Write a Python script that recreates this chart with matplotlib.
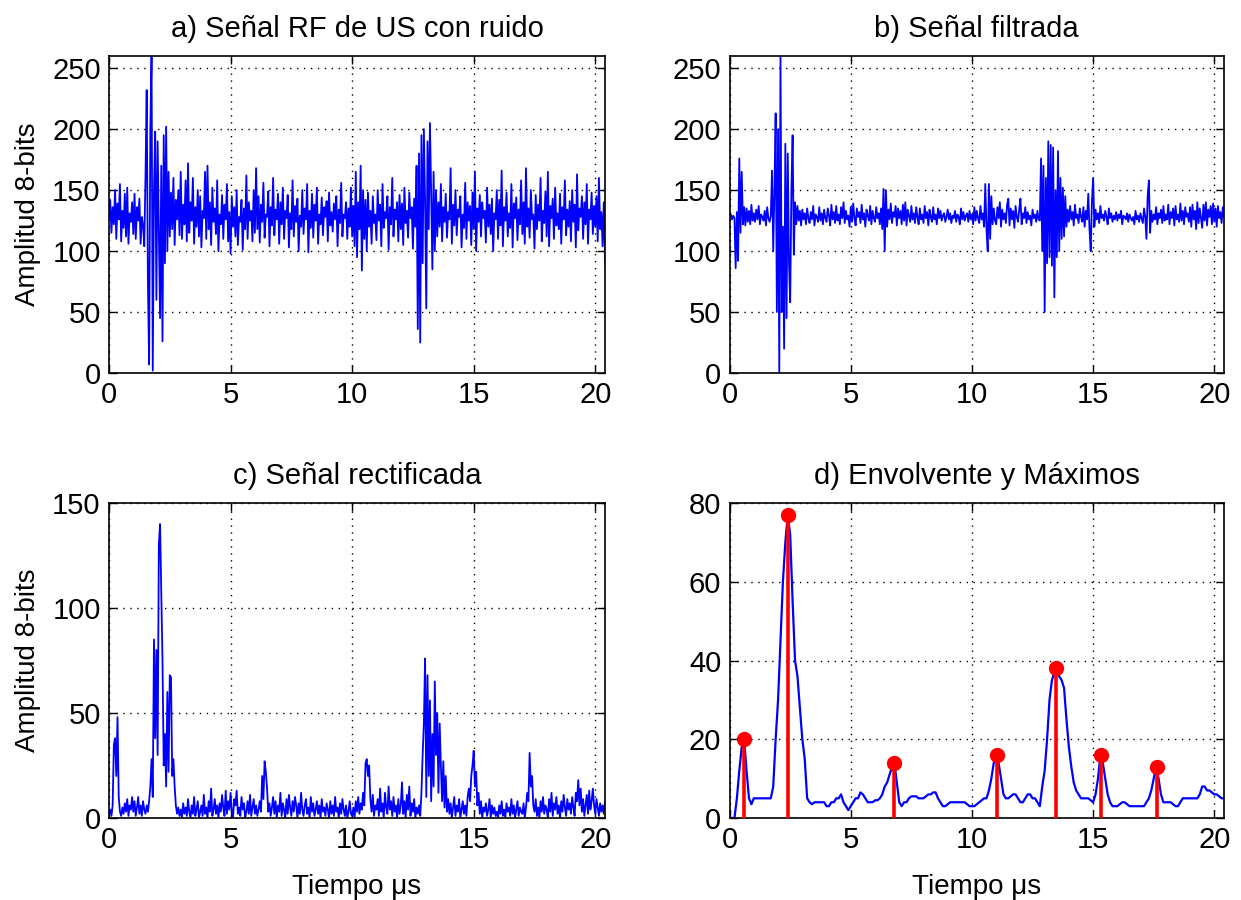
import numpy as np
import matplotlib
matplotlib.use("Agg")
import matplotlib.pyplot as plt

plt.rcParams['font.family'] = ['Liberation Sans', 'DejaVu Sans']

# sample spacing of the three raw traces (us) and of the envelope
DT = 0.05
DT_ENV = 0.1

# a) noisy RF signal, 8-bit amplitude, one row per microsecond
rf_noisy = [
    128, 142, 115, 136, 122, 150, 110, 139, 126, 155, 108, 133, 119, 147, 112, 152, 106, 131, 124, 140,
    114, 147, 110, 136, 125, 143, 106, 128, 121, 104, 160, 232, 75, 7, 200, 260, 2, 150, 198, 60,
    190, 120, 45, 170, 26, 195, 90, 202, 100, 165, 112, 148, 118, 160, 105, 142, 126, 150, 113, 165,
    110, 138, 122, 158, 108, 172, 115, 140, 125, 160, 106, 136, 120, 150, 112, 145, 103, 133, 127, 165,
    110, 170, 118, 140, 105, 152, 124, 135, 114, 158, 100, 130, 122, 146, 110, 138, 126, 155, 108, 132,
    98, 145, 120, 136, 112, 150, 105, 128, 124, 142, 101, 135, 118, 162, 110, 140, 125, 133, 108, 150,
    115, 168, 118, 145, 107, 138, 124, 156, 111, 130, 128, 149, 104, 136, 121, 160, 113, 134, 126, 147,
    106, 140, 122, 152, 110, 133, 127, 146, 103, 131, 118, 158, 112, 137, 124, 143, 100, 129, 120, 150,
    114, 135, 126, 155, 99, 133, 119, 147, 111, 138, 125, 152, 106, 130, 122, 144, 113, 136, 128, 141,
    108, 148, 121, 132, 116, 139, 126, 145, 104, 134, 123, 156, 112, 130, 127, 140, 110, 135, 120, 152,
    112, 137, 104, 165, 95, 140, 118, 170, 84, 150, 110, 142, 100, 148, 120, 133, 106, 145, 123, 130,
    109, 150, 125, 138, 104, 155, 119, 132, 127, 145, 101, 136, 122, 160, 112, 134, 126, 140, 108, 146,
    118, 139, 105, 152, 123, 133, 111, 148, 127, 136, 102, 143, 120, 170, 36, 180, 25, 195, 90, 200,
    140, 53, 190, 118, 205, 148, 85, 165, 100, 150, 112, 140, 120, 155, 108, 136, 124, 147, 111, 132,
    126, 168, 106, 138, 121, 150, 113, 134, 128, 145, 103, 130, 119, 156, 110, 140, 125, 137, 105, 148,
    118, 165, 100, 135, 124, 146, 112, 140, 127, 133, 107, 152, 120, 138, 114, 143, 100, 131, 126, 150,
    110, 142, 121, 166, 104, 136, 125, 148, 112, 131, 119, 155, 103, 139, 127, 144, 109, 134, 122, 158,
    114, 140, 106, 168, 120, 135, 111, 150, 126, 130, 102, 146, 118, 138, 125, 160, 108, 133, 123, 149,
    112, 165, 104, 137, 127, 143, 110, 152, 121, 131, 118, 147, 106, 136, 126, 158, 113, 134, 120, 141,
    108, 150, 124, 138, 103, 163, 117, 135, 128, 145, 110, 140, 122, 155, 106, 134, 126, 148, 114, 137,
    120, 145, 108, 160, 118, 132, 104, 140, 95, 80,
]

# b) filtered signal
rf_filtered = [
    128, 130, 126, 129, 127, 86, 132, 92, 176, 115, 165, 122, 136, 121, 135, 124, 133, 122, 138, 125,
    131, 124, 134, 126, 137, 122, 130, 128, 125, 133, 121, 136, 127, 124, 129, 166, 100, 150, 213, 50,
    200, 0, 260, 50, 120, 20, 188, 45, 180, 90, 58, 150, 195, 97, 140, 122, 137, 125, 133, 121,
    134, 126, 131, 122, 135, 127, 123, 132, 126, 137, 121, 130, 128, 124, 136, 125, 131, 122, 134, 127,
    124, 135, 129, 121, 138, 126, 132, 123, 137, 125, 130, 122, 136, 127, 140, 123, 133, 126, 129, 120,
    136, 124, 139, 127, 121, 135, 128, 132, 123, 138, 126, 131, 120, 134, 129, 125, 137, 122, 133, 127,
    124, 136, 127, 131, 122, 135, 118, 151, 100, 150, 120, 134, 126, 139, 123, 132, 128, 137, 121, 135,
    127, 133, 122, 138, 125, 140, 121, 134, 129, 124, 137, 126, 131, 123, 136, 128, 122, 135, 126, 130,
    123, 137, 127, 132, 121, 134, 128, 124, 136, 126, 130, 122, 135, 127, 133, 125, 129, 131, 124, 128,
    134, 126, 131, 123, 129, 127, 133, 124, 130, 128, 122, 135, 126, 132, 125, 129, 131, 124, 133, 126,
    130, 122, 136, 125, 133, 127, 123, 137, 126, 131, 120, 155, 118, 100, 155, 110, 145, 122, 135, 125,
    122, 136, 127, 140, 120, 134, 126, 131, 123, 138, 143, 121, 135, 126, 133, 119, 137, 128, 124, 134,
    143, 122, 131, 127, 136, 123, 132, 126, 129, 121, 134, 127, 130, 124, 133, 126, 125, 176, 100, 170,
    50, 160, 90, 190, 95, 187, 88, 185, 62, 150, 95, 182, 100, 160, 110, 152, 112, 145, 120, 134,
    124, 137, 126, 132, 121, 138, 127, 130, 123, 135, 128, 124, 136, 120, 133, 126, 147, 118, 100, 140,
    160, 120, 134, 126, 131, 123, 137, 127, 130, 125, 133, 128, 122, 135, 127, 131, 124, 129, 126, 132,
    125, 130, 127, 133, 122, 129, 128, 126, 131, 124, 130, 127, 125, 128, 122, 133, 126, 129, 124, 131,
    127, 123, 135, 128, 110, 145, 158, 115, 133, 124, 130, 126, 136, 122, 131, 127, 134, 123, 137, 125,
    130, 126, 138, 122, 132, 127, 135, 121, 137, 126, 130, 124, 139, 125, 133, 122, 136, 128, 131, 124,
    136, 120, 138, 126, 133, 118, 140, 123, 135, 127, 119, 138, 125, 140, 121, 134, 128, 137, 122, 139,
    124, 135, 120, 137, 127, 132, 123, 136, 128, 133,
]

# c) rectified signal
rf_rectified = [
    2, 4, 1, 6, 35, 38, 20, 48, 10, 3, 1, 5, 2, 7, 3, 9, 1, 6, 4, 10,
    3, 8, 1, 5, 10, 2, 6, 1, 8, 4, 2, 6, 3, 8, 15, 28, 10, 85, 38, 80,
    30, 130, 140, 107, 75, 25, 40, 15, 60, 22, 68, 67, 20, 28, 15, 6, 2, 5, 1, 4,
    0, 7, 2, 5, 1, 9, 3, 0, 6, 2, 10, 1, 4, 8, 0, 3, 6, 1, 11, 2,
    5, 0, 8, 3, 14, 1, 4, 9, 2, 6, 0, 7, 3, 11, 5, 1, 13, 2, 8, 4,
    12, 3, 0, 9, 6, 13, 2, 5, 1, 10, 4, 7, 0, 3, 8, 2, 11, 1, 5, 9,
    2, 6, 1, 4, 8, 3, 20, 9, 27, 22, 14, 3, 7, 1, 5, 10, 2, 8, 0, 6,
    3, 12, 1, 7, 4, 0, 9, 2, 11, 5, 1, 8, 3, 10, 6, 0, 7, 2, 12, 4,
    1, 6, 9, 2, 5, 0, 10, 3, 7, 1, 4, 8, 2, 6, 0, 9, 3, 5, 1, 7,
    4, 0, 8, 2, 6, 1, 10, 3, 5, 0, 7, 2, 9, 4, 1, 6, 0, 3, 8, 2,
    1, 5, 0, 8, 3, 10, 2, 7, 4, 12, 6, 26, 28, 20, 25, 9, 3, 11, 1, 6,
    4, 9, 1, 14, 3, 7, 0, 12, 5, 2, 15, 4, 8, 1, 10, 3, 6, 0, 9, 2,
    6, 17, 2, 8, 0, 11, 4, 15, 1, 7, 3, 9, 0, 5, 2, 6, 1, 12, 30, 45,
    76, 10, 68, 20, 56, 8, 40, 15, 65, 30, 50, 12, 45, 25, 8, 27, 5, 20, 3, 9,
    2, 7, 0, 5, 10, 1, 6, 3, 9, 0, 4, 8, 2, 6, 1, 10, 14, 8, 20, 25,
    32, 15, 22, 6, 12, 2, 8, 0, 5, 3, 7, 1, 4, 9, 0, 6, 2, 5, 1, 3,
    0, 6, 2, 8, 1, 4, 0, 7, 3, 5, 1, 9, 2, 6, 0, 4, 8, 1, 5, 3,
    2, 7, 0, 5, 12, 8, 31, 15, 20, 6, 3, 9, 1, 5, 0, 8, 3, 10, 2, 6,
    4, 0, 9, 3, 12, 1, 7, 4, 10, 2, 6, 0, 8, 3, 11, 5, 1, 9, 4, 7,
    2, 10, 5, 1, 12, 8, 18, 6, 14, 3, 9, 1, 6, 11, 2, 13, 4, 8, 14, 6,
    2, 9, 5, 1, 7, 3, 6, 2, 8, 4,
]

# d) envelope (0.1 us steps) and detected maxima
envelope = [
    0, 0, 0, 5, 12, 18, 20, 12, 5, 3.5,
    5, 5, 5, 5, 5, 5, 5, 5, 8, 20,
    30, 45, 60, 70, 77, 72, 55, 40, 36, 28,
    20, 15, 5, 4, 3.5, 4, 4, 4, 4, 4,
    3, 3, 4, 4, 5, 5, 6, 4, 3, 2,
    3, 4, 5, 5, 6.5, 6, 5, 4, 4, 4,
    4.5, 4.5, 5, 6, 8, 9, 11, 13, 14, 9,
    4, 3, 4, 4, 5, 5.5, 5.5, 5.5, 5, 5,
    5, 5.5, 6, 6, 6.5, 6.5, 5, 4, 3, 3,
    3.5, 4, 4, 4, 4, 4, 4, 4, 3.5, 3,
    3, 3, 3.5, 4, 4.5, 5, 5, 7, 10, 14,
    16, 14, 10, 6, 5, 5, 5.5, 6, 6, 5,
    4, 4, 5, 6, 6, 5, 5, 4, 3, 8,
    12, 20, 30, 35, 37, 38, 36, 35, 33, 25,
    18, 13, 9, 7, 6, 5, 5, 5, 5, 4.5,
    4, 6, 10, 16, 14, 10, 6, 4, 3, 3,
    3, 3.5, 4, 4, 3.5, 3, 3, 3, 3, 3,
    3, 3, 4, 5, 7, 10, 13, 10, 6, 4,
    4, 4, 4, 3.5, 3, 3, 4, 5, 5, 5,
    5, 5, 5, 5, 6, 8, 8, 7, 7, 6.5,
    6, 6, 5.5, 5, 5,
]
peak_t = [0.61, 2.40, 6.78, 11.02, 13.48, 15.34, 17.64]
peak_v = [20, 77, 14, 16, 38, 16, 13]

titles = ["a) Señal RF de US con ruido", "b) Señal filtrada",
          "c) Señal rectificada", "d) Envolvente y Máximos"]
ylabel = "Amplitud 8-bits"
xlabel = "Tiempo μs"

t_raw = np.arange(len(rf_noisy)) * DT
t_env = np.arange(len(envelope)) * DT_ENV

fig = plt.figure(figsize=(12.41, 9.0), dpi=100)
W, H = 1241.0, 900.0
boxes = [(109, 56, 605, 373), (729.6, 56, 1224, 373),
         (109, 503, 605, 818), (729.6, 503, 1224, 818)]
axs = [fig.add_axes([l / W, 1 - b / H, (r - l) / W, (b - t) / H]) for l, t, r, b in boxes]

blue = (0, 0, 1)
axs[0].plot(t_raw, rf_noisy, color=blue, lw=1.3)
axs[1].plot(t_raw, rf_filtered, color=blue, lw=1.3)
axs[2].plot(t_raw, rf_rectified, color=blue, lw=1.3)
axs[3].plot(t_env, envelope, color=blue, lw=1.6)
axs[3].vlines(peak_t, 0, peak_v, color='red', lw=2.6, zorder=3)
axs[3].plot(peak_t, peak_v, 'o', color='red', ms=10, zorder=4)

ylims = [(0, 260), (0, 260), (0, 150), (0, 80)]
yticks = [range(0, 251, 50), range(0, 251, 50), range(0, 151, 50), range(0, 81, 20)]

FS = 20
for i, ax in enumerate(axs):
    ax.set_xlim(0, 20.4)
    ax.set_ylim(*ylims[i])
    ax.set_xticks([0, 5, 10, 15, 20])
    ax.set_yticks(list(yticks[i]))
    ax.grid(True, color='k', lw=1.0, linestyle=(0, (1, 4)))
    ax.tick_params(direction='in', top=True, right=True, length=6, width=1,
                   labelsize=FS + 1, pad=6)
    for s in ax.spines.values():
        s.set_linewidth(1.2)
    ax.set_title(titles[i], fontsize=FS + 1, pad=14)

axs[0].set_ylabel(ylabel, fontsize=FS, labelpad=8)
axs[2].set_ylabel(ylabel, fontsize=FS, labelpad=8)
axs[2].set_xlabel(xlabel, fontsize=FS, labelpad=14)
axs[3].set_xlabel(xlabel, fontsize=FS, labelpad=14)

fig.savefig("out.png", dpi=100)
